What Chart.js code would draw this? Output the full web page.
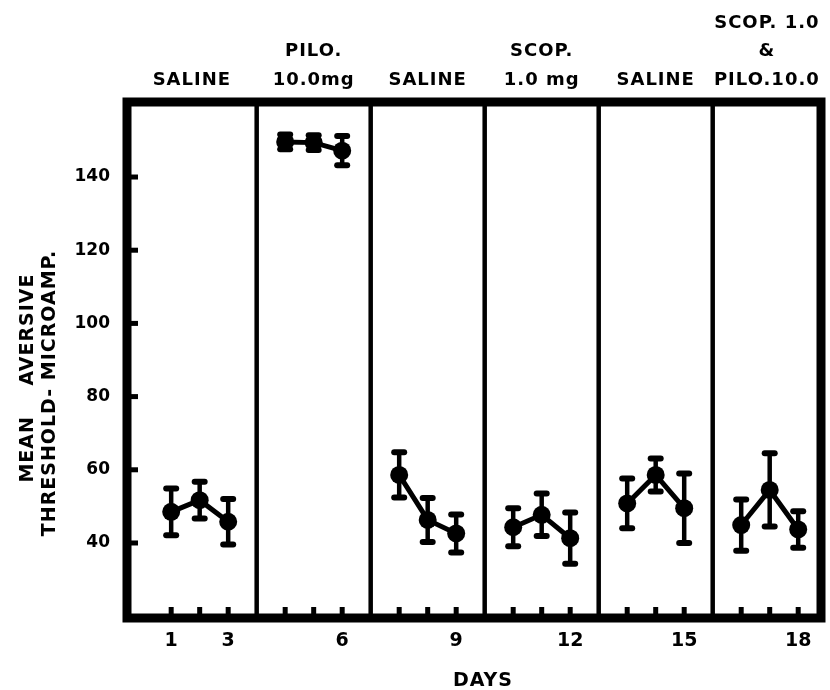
<!DOCTYPE html>
<html>
<head>
<meta charset="utf-8">
<script src="https://cdn.jsdelivr.net/npm/chart.js@4.4.1/dist/chart.umd.min.js"></script>
<style>
  body { margin: 0; background: #fff; }
  #wrap { width: 830px; height: 690px; }
</style>
</head>
<body>
<div id="wrap"><canvas id="myChart" width="830" height="690"></canvas></div>
<script>
/* values */
const days = [1, 2, 3, 4, 5, 6, 7, 8, 9, 10, 11, 12, 13, 14, 15, 16, 17, 18];
const meanThreshold = [48.5, 51.7, 45.8, 149.6, 149.4, 147.2, 58.6, 46.3, 42.6, 44.3, 47.7, 41.3, 50.8, 58.6, 49.5, 44.9, 54.5, 43.7];
const errThreshold = [6.4, 5.0, 6.2, 2.0, 2.0, 4.0, 6.2, 6.0, 5.2, 5.2, 5.8, 7.0, 6.8, 4.5, 9.5, 7.0, 10.0, 5.0];
const dayLabels = [1, 3, 6, 9, 12, 15, 18];
const yTicks = [40, 60, 80, 100, 120, 140];
const groupLabels = [
    ['SALINE'],
    ['PILO.', '10.0mg'],
    ['SALINE'],
    ['SCOP.', '1.0 mg'],
    ['SALINE'],
    ['SCOP. 1.0', '&', 'PILO.10.0']
];
const yTitle = ['MEAN    AVERSIVE', 'THRESHOLD- MICROAMP.'];
const xTitle = 'DAYS';

const FONT = '"DejaVu Sans", sans-serif';
const X_MIN = -0.55;
const X_MAX = 23.8;

// each treatment block of 3 days gets its own panel, so leave a gap between blocks
function dayPos(day) {
    return day + Math.floor((day - 1) / 3);
}

function buildDatasets() {
    return groupLabels.map((g, i) => {
        const slice = days.slice(i * 3, i * 3 + 3);
        return {
            data: slice.map((d) => ({ x: dayPos(d), y: meanThreshold[d - 1] })),
            borderColor: '#000',
            borderWidth: 5,
            pointRadius: 9,
            pointHoverRadius: 9,
            pointBackgroundColor: '#000',
            pointBorderWidth: 0,
            tension: 0
        };
    });
}

const errorBars = {
    id: 'errorBars',
    afterDatasetsDraw(chart) {
        const ctx = chart.ctx;
        const xs = chart.scales.x;
        const ys = chart.scales.y;
        ctx.save();
        ctx.strokeStyle = '#000';
        days.forEach((d, i) => {
            const x = xs.getPixelForValue(dayPos(d));
            const yTop = ys.getPixelForValue(meanThreshold[i] + errThreshold[i]);
            const yBot = ys.getPixelForValue(meanThreshold[i] - errThreshold[i]);
            ctx.lineWidth = 4.5;
            ctx.lineCap = 'butt';
            ctx.beginPath();
            ctx.moveTo(x, yTop);
            ctx.lineTo(x, yBot);
            ctx.stroke();
            ctx.lineWidth = 6;
            ctx.lineCap = 'round';
            [yTop, yBot].forEach((y) => {
                ctx.beginPath();
                ctx.moveTo(x - 5, y);
                ctx.lineTo(x + 5, y);
                ctx.stroke();
            });
        });
        ctx.restore();
    }
};

const frame = {
    id: 'frame',
    afterDraw(chart) {
        const ctx = chart.ctx;
        const a = chart.chartArea;
        const xs = chart.scales.x;
        const ys = chart.scales.y;
        const last = groupLabels.length - 1;
        ctx.save();
        ctx.fillStyle = '#000';
        ctx.strokeStyle = '#000';

        // panel dividers
        ctx.lineWidth = 4.5;
        for (let g = 1; g <= last; g++) {
            const x = xs.getPixelForValue(g * 4);
            ctx.beginPath();
            ctx.moveTo(x, a.top);
            ctx.lineTo(x, a.bottom);
            ctx.stroke();
        }

        // heavy box
        ctx.lineWidth = 9;
        ctx.lineJoin = 'miter';
        ctx.strokeRect(a.left, a.top, a.right - a.left, a.bottom - a.top);

        // small inward tick nubs
        yTicks.forEach((v) => {
            const y = ys.getPixelForValue(v);
            ctx.fillRect(a.left, y - 2.5, 11, 5);
        });
        days.forEach((d) => {
            const x = xs.getPixelForValue(dayPos(d));
            ctx.fillRect(x - 2.5, a.bottom - 11, 5, 11);
        });

        // treatment labels above each panel
        ctx.font = 'bold 18px ' + FONT;
        ctx.letterSpacing = '1px';
        ctx.textAlign = 'center';
        ctx.textBaseline = 'alphabetic';
        groupLabels.forEach((lines, g) => {
            const x0 = xs.getPixelForValue(g === 0 ? X_MIN : g * 4);
            const x1 = xs.getPixelForValue(g === last ? X_MAX : g * 4 + 4);
            const cx = (x0 + x1) / 2;
            lines.forEach((txt, k) => {
                const y = 84.5 - (lines.length - 1 - k) * 28.5;
                ctx.fillText(txt, cx, y);
            });
        });

        // x title
        ctx.font = 'bold 19px ' + FONT;
        ctx.fillText(xTitle, (a.left + a.right) / 2 + 9, 686);

        // rotated y title, two lines
        const mid = (a.top + a.bottom) / 2;
        const titlePlace = [[32.5, mid + 18], [54.5, mid + 33]];
        yTitle.forEach((txt, k) => {
            ctx.save();
            ctx.translate(titlePlace[k][0], titlePlace[k][1]);
            ctx.rotate(-Math.PI / 2);
            ctx.fillText(txt, 0, 0);
            ctx.restore();
        });
        ctx.restore();
    }
};

function initChart(target) {
    const config = {
        type: 'line',
        data: { datasets: buildDatasets() },
        options: {
            responsive: false,
            animation: false,
            devicePixelRatio: 1,
            layout: { padding: { top: 102, right: 4, left: 0, bottom: 0 } },
            plugins: {
                legend: { display: false },
                tooltip: { enabled: false }
            },
            scales: {
                x: {
                    type: 'linear',
                    min: X_MIN,
                    max: X_MAX,
                    afterBuildTicks: (scale) => {
                        scale.ticks = days.map((d) => ({ value: dayPos(d) }));
                    },
                    afterFit: (scale) => { scale.height = 72; },
                    grid: { display: false, drawTicks: false },
                    border: { display: false },
                    ticks: {
                        autoSkip: false,
                        maxRotation: 0,
                        padding: 12,
                        color: '#000',
                        font: { family: FONT, size: 19, weight: 'bold' },
                        callback: (value) => {
                            const d = days.find((item) => dayPos(item) === value);
                            return dayLabels.includes(d) ? String(d) : '';
                        }
                    }
                },
                y: {
                    min: 19.5,
                    max: 160.5,
                    afterBuildTicks: (scale) => {
                        scale.ticks = yTicks.map((v) => ({ value: v }));
                    },
                    afterFit: (scale) => { scale.width = 127; },
                    grid: { display: false, drawTicks: false },
                    border: { display: false },
                    ticks: {
                        padding: 17,
                        color: '#000',
                        font: { family: FONT, size: 17, weight: 'bold' }
                    }
                }
            }
        },
        plugins: [errorBars, frame]
    };
    return new Chart(target, config);
}

document.addEventListener('DOMContentLoaded', () => {
    initChart(document.querySelector('#myChart'));
});
</script>
</body>
</html>
